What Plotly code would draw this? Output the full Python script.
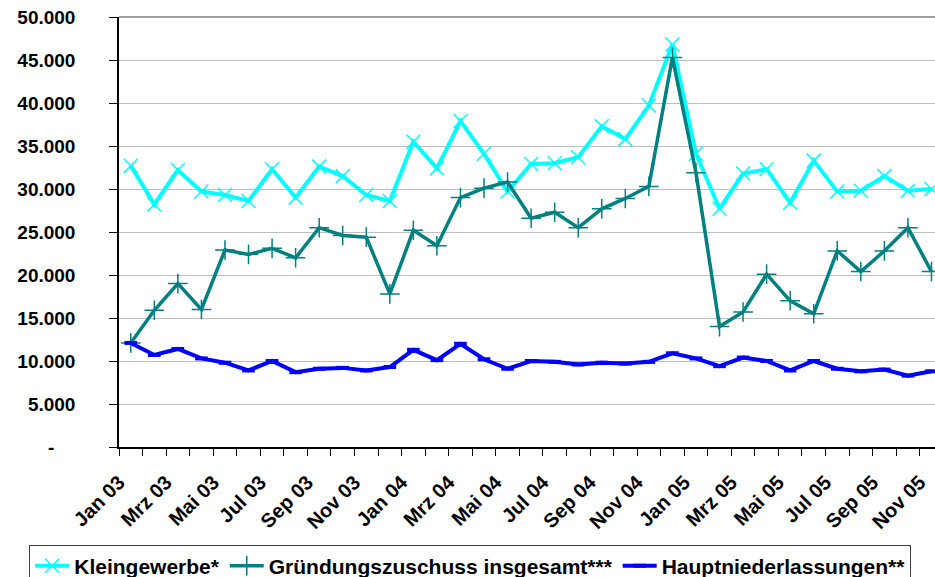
import plotly.graph_objects as go

# Monatsachse (Jan 03 - Nov 05)
months = ["Jan 03", "Feb 03", "Mrz 03", "Apr 03", "Mai 03", "Jun 03", "Jul 03", "Aug 03",
          "Sep 03", "Okt 03", "Nov 03", "Dez 03",
          "Jan 04", "Feb 04", "Mrz 04", "Apr 04", "Mai 04", "Jun 04", "Jul 04", "Aug 04",
          "Sep 04", "Okt 04", "Nov 04", "Dez 04",
          "Jan 05", "Feb 05", "Mrz 05", "Apr 05", "Mai 05", "Jun 05", "Jul 05", "Aug 05",
          "Sep 05", "Okt 05", "Nov 05"]

kleingewerbe = [32700, 28200, 32200, 29700, 29300, 28600, 32300, 29000, 32600, 31500, 29300, 28600,
                35500, 32400, 37900, 34100, 29700, 32900, 33000, 33700, 37300, 35800, 39700, 46800,
                34100, 27700, 31800, 32300, 28400, 33300, 29700, 29800, 31500, 29800, 30000]

gruendungszuschuss = [12100, 15900, 19000, 16000, 22900, 22400, 23100, 22000, 25500, 24600, 24400, 17800,
                      25200, 23400, 29000, 30100, 30800, 26600, 27300, 25500, 27700, 28900, 30300, 45300,
                      31900, 14000, 15700, 20100, 17000, 15500, 22800, 20400, 22800, 25500, 20400]

hauptniederlassungen = [12100, 10700, 11400, 10300, 9800, 8900, 10000, 8700, 9100, 9200, 8900, 9300,
                        11300, 10100, 12000, 10200, 9100, 10000, 9900, 9600, 9800, 9700, 9900, 10900,
                        10300, 9400, 10400, 10000, 8900, 10000, 9100, 8800, 9000, 8300, 8800]

y_ticks = [0, 5000, 10000, 15000, 20000, 25000, 30000, 35000, 40000, 45000, 50000]

FONT = "Liberation Sans, Arial, sans-serif"

x = list(range(len(months)))

# Beschriftung nur jeden zweiten Monat, am linken Rand der Kategorie
label_pos = [i - 0.5 for i in x[::2]]
label_txt = months[::2]

# deutsches Zahlenformat, Null als "-"
y_txt = [f"{v:,}".replace(",", ".") if v else "-\u00a0\u00a0\u00a0\u00a0" for v in y_ticks]

fig = go.Figure()

fig.add_trace(go.Scatter(
    x=x, y=kleingewerbe, name="Kleingewerbe*", mode="lines+markers",
    line=dict(color="#00FFFF", width=4),
    marker=dict(symbol="x-thin-open", size=14, color="#00FFFF", line=dict(width=1.5, color="#00FFFF"))))

fig.add_trace(go.Scatter(
    x=x, y=gruendungszuschuss, name="Gründungszuschuss insgesamt***", mode="lines+markers",
    line=dict(color="#008080", width=3.5),
    marker=dict(symbol="cross-thin-open", size=14, color="#008080", line=dict(width=1.5, color="#007070"))))

fig.add_trace(go.Scatter(
    x=x, y=hauptniederlassungen, name="Hauptniederlassungen**", mode="lines+markers",
    line=dict(color="#0000FF", width=4),
    marker=dict(symbol="line-ew-open", size=9, color="#0000FF", line=dict(width=4, color="#0000FF"))))

fig.update_layout(
    width=935, height=577,
    margin=dict(l=119, r=0, t=17, b=130, autoexpand=False),
    paper_bgcolor="white", plot_bgcolor="white",
    font=dict(family=FONT, size=19, color="black", weight="bold"),
    showlegend=True,
    legend=dict(orientation="h", x=-0.11, xanchor="left", y=-0.227, yanchor="top",
                itemwidth=34, tracegroupgap=0,
                bordercolor="#404040", borderwidth=1, bgcolor="white",
                font=dict(family=FONT, size=21, color="black", weight="bold")),
    shapes=[dict(type="line", xref="paper", yref="paper", x0=0, x1=1, y0=1, y1=1,
                 line=dict(color="#808080", width=1.5))],
)

fig.update_xaxes(
    range=[-0.5, 34.15], showgrid=False, zeroline=False, automargin=False,
    showline=True, linecolor="black", linewidth=1.5,
    tickmode="array", tickvals=label_pos, ticktext=label_txt, tickangle=-45,
    tickfont=dict(size=20),
    ticks="outside", ticklen=7, tickcolor="black", ticklabelstandoff=7,
    minor=dict(tickmode="linear", tick0=-0.5, dtick=1, ticks="outside", ticklen=7, tickcolor="black"),
)

fig.update_yaxes(
    range=[0, 50000], showgrid=True, gridcolor="#BEBEBE", gridwidth=1, zeroline=False, automargin=False,
    showline=True, linecolor="black", linewidth=1.5,
    tickmode="array", tickvals=y_ticks, ticktext=y_txt,
    ticks="outside", ticklen=8, tickcolor="black", ticklabelstandoff=30,
)

# Seitenrand des Browsers entfernen, damit die Grafik bei 0/0 beginnt
fig.write_html("out.html", config={"displayModeBar": False},
               post_script="document.body.style.margin='0';")
